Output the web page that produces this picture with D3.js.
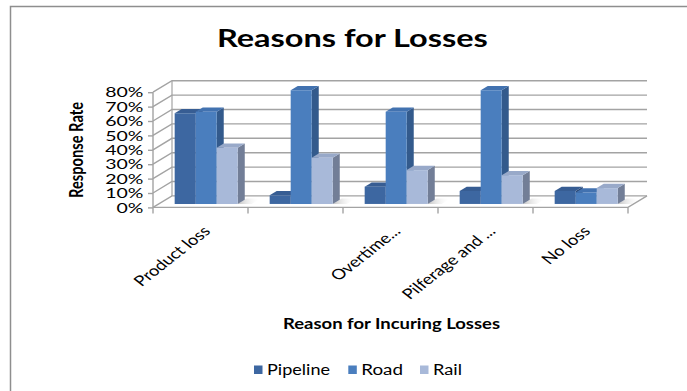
<!DOCTYPE html>
<html><head><meta charset="utf-8">
<script src="https://cdn.jsdelivr.net/npm/d3@7"></script>
<style>body{margin:0;background:#fff}svg{display:block}text{font-family:Lato,"Open Sans",sans-serif}</style>
</head><body><svg id="c" width="687" height="391"></svg>
<script>
const categories = ["Product loss", "", "Overtime...", "Pilferage and ...", "No loss"];
const seriesNames = ["Pipeline", "Road", "Rail"];
const pipeline = [0.63, 0.06, 0.12, 0.09, 0.09];
const road = [0.64, 0.79, 0.64, 0.79, 0.08];
const rail = [0.39, 0.32, 0.235, 0.20, 0.11];
const yTicks = [0, 0.1, 0.2, 0.3, 0.4, 0.5, 0.6, 0.7, 0.8];

const seriesValues = [pipeline, road, rail];
const frontC = ["#3d67a1", "#4a7ebe", "#a8b9d9"];
const sideC  = ["#2c4a76", "#335a8c", "#727e97"];
const topC   = ["#375d93", "#4272b0", "#98a9c9"];

const svg = d3.select("#c");
const DX = 19, DY = 11.5;
const x = d3.scaleBand().domain(d3.range(categories.length)).range([153, 628]).paddingInner(0).paddingOuter(0);
const x1 = d3.scaleBand().domain(d3.range(seriesNames.length)).range([0, x.bandwidth()]).paddingInner(0).paddingOuter(0.76);
const y = d3.scaleLinear().domain([0, 0.8]).range([207.4, 92.2]);
const P = (px, py, f) => [px + DX * f, py - DY * f];

// frame
svg.append("path").attr("d", "M10.5,391V6.5H687").attr("fill", "none").attr("stroke", "#8e8e8e").attr("stroke-width", 1.5);

// back wall gridlines + left wall
const g = svg.append("g");
const grid = "#a3a3a3";
yTicks.forEach(t => {
  const a = P(153, y(t), 0), b = P(153, y(t), 1), c = P(628, y(t), 1);
  g.append("path").attr("d", `M${a}L${b}L${c}`).attr("fill", "none").attr("stroke", grid).attr("stroke-width", 1.4);
});
{
  const a = P(153, y(0), 1), b = P(153, y(0.8), 1);
  g.append("path").attr("d", `M${a}L${b}`).attr("stroke", grid).attr("stroke-width", 1.2);
  const r0 = P(628, y(0), 0), r1 = P(628, y(0), 1);
  g.append("path").attr("d", `M153,${y(0)}L${r0}L${r1}`).attr("fill", "none").attr("stroke", grid).attr("stroke-width", 1.4);
}

// floor shadows
const defs = svg.append("defs");
const lg = defs.append("linearGradient").attr("id", "sh").attr("x1", 0).attr("x2", 1).attr("y1", 0).attr("y2", 0);
lg.append("stop").attr("offset", "0").attr("stop-color", "#9a9a9a").attr("stop-opacity", 0.6);
lg.append("stop").attr("offset", "1").attr("stop-color", "#ffffff").attr("stop-opacity", 0);

// bars
const fF = 0.3, fB = 0.67;
categories.forEach((cat, i) => {
  const gx = x(i) + x1(2) + x1.bandwidth();
  const s0 = P(gx, y(0), fF), s1 = P(gx + 14, y(0), fF), s2 = P(gx + 14, y(0), fB + 0.1), s3 = P(gx, y(0), fB + 0.1);
  svg.append("path").attr("d", `M${s0}L${s1}L${s2}L${s3}Z`).attr("fill", "url(#sh)");
  seriesValues.forEach((vals, s) => {
    const v = vals[i];
    const x0 = x(i) + x1(s), w = x1.bandwidth();
    const a = P(x0, y(0), fF), b = P(x0 + w, y(0), fF), c = P(x0 + w, y(v), fF), d = P(x0, y(v), fF);
    const b2 = P(x0 + w, y(0), fB), c2 = P(x0 + w, y(v), fB), d2 = P(x0, y(v), fB);
    const bg = svg.append("g");
    bg.append("path").attr("d", `M${b}L${b2}L${c2}L${c}Z`).attr("fill", sideC[s]);
    bg.append("path").attr("d", `M${d}L${c}L${c2}L${d2}Z`).attr("fill", topC[s]);
    bg.append("path").attr("d", `M${a}L${b}L${c}L${d}Z`).attr("fill", frontC[s]);
  });
});

// y axis
const ya = svg.append("g").attr("transform", "translate(153,0)")
  .call(d3.axisLeft(y).tickValues(yTicks).tickFormat(d3.format(".0%")).tickSize(5).tickPadding(0));
ya.select(".domain").attr("stroke", grid).attr("stroke-width", 1.4).attr("d", `M0,${y(0.8)}V${y(0)}`);
ya.selectAll(".tick line").attr("stroke", grid).attr("stroke-width", 1.4);
ya.selectAll(".tick text").attr("font-size", 13).attr("fill", "#000").attr("font-family", "Lato")
  .attr("x", 0).attr("dy", null)
  .attr("text-anchor", "end")
  .attr("transform", `translate(-9.5,4.6)scale(1.5,1)`);

// x axis
const bounds = d3.range(categories.length + 1).map(i => i < categories.length ? x(i) : x(i - 1) + x.bandwidth());
svg.append("g").selectAll("line").data(bounds).join("line")
  .attr("x1", d => d).attr("x2", d => d).attr("y1", y(0)).attr("y2", y(0) + 6).attr("stroke", grid).attr("stroke-width", 1.4);
svg.selectAll("text.cat").data(categories).join("text").attr("class", "cat")
  .attr("text-anchor", "end").attr("font-size", 14.5).attr("fill", "#000")
  .attr("transform", (d, i) => `translate(${x(i) + x.bandwidth() / 2 + 11},232)scale(1.27,1)rotate(-45)`)
  .text(d => d);

// titles
svg.append("text").attr("x", 352.4).attr("y", 46.7).attr("text-anchor", "middle")
  .attr("font-size", 25).attr("font-weight", "bold").attr("textLength", 271).attr("lengthAdjust", "spacingAndGlyphs")
  .text("Reasons for Losses");
svg.append("text").attr("transform", "translate(83,150)scale(1.25,1)rotate(-90)").attr("text-anchor", "middle")
  .attr("font-size", 14.5).attr("font-weight", "bold").attr("textLength", 96).attr("lengthAdjust", "spacingAndGlyphs")
  .text("Response Rate");
svg.append("text").attr("x", 391.5).attr("y", 329).attr("text-anchor", "middle")
  .attr("font-size", 15).attr("font-weight", "bold").attr("textLength", 217).attr("lengthAdjust", "spacingAndGlyphs")
  .text("Reason for Incuring Losses");

// legend
const legX = [254, 348.3, 420], legW = [63, 41.7, 29];
const lgG = svg.append("g");
seriesNames.forEach((n, s) => {
  lgG.append("rect").attr("x", legX[s]).attr("y", 365.5).attr("width", 8.5).attr("height", 8.5).attr("fill", frontC[s]);
  lgG.append("text").attr("x", legX[s] + 13).attr("y", 375).attr("font-size", 14.5)
    .attr("textLength", legW[s]).attr("lengthAdjust", "spacingAndGlyphs").text(n);
});
</script></body></html>
